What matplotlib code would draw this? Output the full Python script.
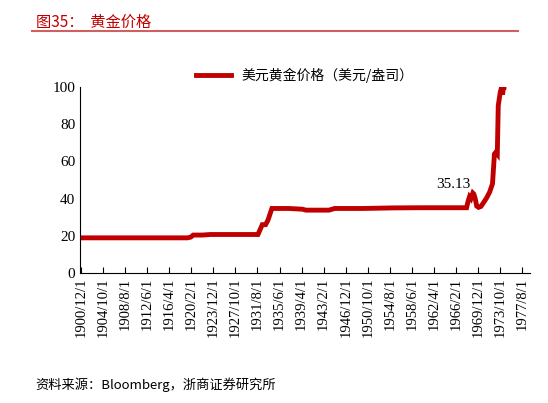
import matplotlib
matplotlib.use("Agg")
import matplotlib.pyplot as plt
import pandas as pd

dates = ["1900-12","1905-01","1910-01","1915-01","1919-06","1920-01","1920-06","1922-01","1923-06",
         "1924-01","1925-01","1930-01","1931-06","1931-09","1932-06","1933-01","1933-06","1934-02",
         "1937-01","1939-06","1940-01","1944-01","1945-01","1950-01","1955-01","1960-01","1965-01",
         "1967-12","1968-03","1968-06","1968-09","1969-01","1969-03","1969-06","1969-09","1970-01",
         "1970-06","1971-01","1971-06","1971-12","1972-06","1972-10","1973-01","1973-04","1973-06",
         "1973-10","1974-01","1974-03","1974-05","1974-06"]
values = [18.9,18.9,18.9,18.9,18.9,19.3,20.4,20.4,20.7,20.7,20.7,20.7,20.7,20.7,26.0,26.0,28.5,34.7,
          34.7,34.3,33.8,33.8,34.7,34.7,35.0,35.1,35.1,35.1,38.5,41.0,40.0,43.0,42.5,40.0,36.0,35.3,
          35.8,38.5,40.5,43.5,48.0,64.0,65.0,64.0,90.0,97.0,100.0,96.0,100.0,100.0]
tick_labels = ["1900/12/1","1904/10/1","1908/8/1","1912/6/1","1916/4/1","1920/2/1","1923/12/1",
               "1927/10/1","1931/8/1","1935/6/1","1939/4/1","1943/2/1","1946/12/1","1950/10/1",
               "1954/8/1","1958/6/1","1962/4/1","1966/2/1","1969/12/1","1973/10/1","1977/8/1"]

cjk = ["Noto Sans CJK SC", "DejaVu Sans"]
serif = ["Liberation Serif", "Noto Sans CJK SC"]
red = "#C00000"

x = pd.to_datetime(dates)
fig = plt.figure(figsize=(5.48, 4.03), dpi=100)
ax = fig.add_axes([0.146, 0.3226, 0.821, 0.4614])
ax.plot(x, values, color=red, lw=3.5, label="美元黄金价格（美元/盎司）", solid_joinstyle="miter")
ax.set_ylim(0, 100)
ax.set_yticks(range(0, 101, 20))
ticks = pd.to_datetime([t.replace("/", "-") for t in tick_labels])
ax.set_xticks(ticks)
ax.set_xticklabels(tick_labels, rotation=90, fontfamily=serif, fontsize=10.5)
ax.set_xlim(pd.Timestamp("1900-10-01"), pd.Timestamp("1978-12-01"))
for l in ax.get_yticklabels():
    l.set_fontfamily(serif); l.set_fontsize(11)
for s in ["top", "right"]:
    ax.spines[s].set_visible(False)
ax.tick_params(axis="y", length=0)
ax.tick_params(axis="x", direction="in", length=4)
ax.annotate("35.13", xy=(pd.Timestamp("1968-06-01"), 41), xytext=(-12, 6), textcoords="offset points",
            ha="center", fontfamily=serif, fontsize=11)
ax.legend(loc="upper center", bbox_to_anchor=(0.5, 1.17), frameon=False, prop={"family": cjk, "size": 10},
          handlelength=2.5)
fig.text(0.065, 0.965, "图35：  黄金价格", color=red, fontfamily=cjk, fontsize=11, va="top")
fig.add_artist(plt.Line2D([0.058, 0.945], [0.923, 0.923], color="#D06060", lw=1.5))
fig.text(0.065, 0.045, "资料来源：Bloomberg，浙商证券研究所", fontfamily=cjk, fontsize=9.5, va="center")
fig.savefig("out.png", dpi=100)
